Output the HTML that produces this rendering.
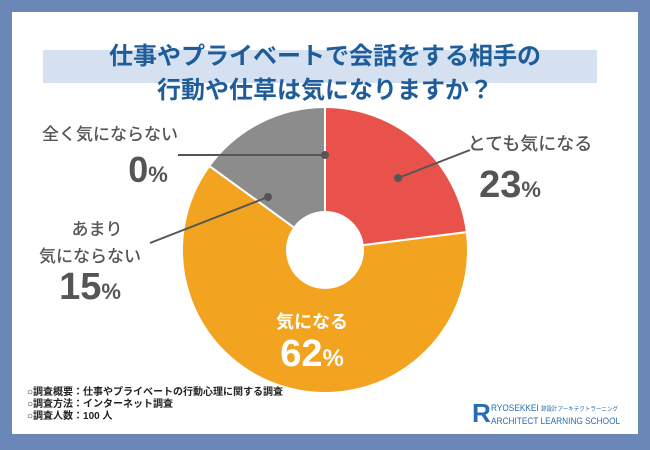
<!DOCTYPE html>
<html><head><meta charset="utf-8"><style>
body{margin:0;width:650px;height:450px;background:#6a87b7;font-family:"Liberation Sans","Noto Sans CJK JP",sans-serif;overflow:hidden}
.card{position:absolute;left:12px;top:12px;width:626px;height:422px;background:#fff}
.t{position:absolute;left:0;width:650px;text-align:center;color:#1e5c9a;font-weight:bold;font-size:24px}
</style></head><body>
<div class="card"></div>
<div style="position:absolute;left:43px;top:50px;width:554px;height:33px;background:#d5e1f0"></div>
<div class="t" style="top:36px">仕事やプライベートで会話をする相手の</div>
<div class="t" style="top:70px">行動や仕草は気になりますか？</div>
<svg width="650" height="450" style="position:absolute;left:0;top:0">
<g id="slices"></g>
<g font-family="Liberation Sans, Noto Sans CJK JP, sans-serif" fill="#555">
<line x1="178" y1="155" x2="325" y2="155" stroke="#555" stroke-width="2"/>
<circle cx="325" cy="155" r="4" fill="#555"/>
<line x1="398" y1="178" x2="470" y2="150" stroke="#555" stroke-width="2"/>
<circle cx="398" cy="178" r="4" fill="#555"/>
<line x1="150" y1="243" x2="268" y2="197" stroke="#555" stroke-width="2"/>
<circle cx="268" cy="197" r="4" fill="#555"/>
<text x="110" y="140" font-size="17" text-anchor="middle" font-weight="500">全く気にならない</text>
<text x="148" y="182" font-size="36" text-anchor="middle" font-weight="bold">0<tspan font-size="22">%</tspan></text>
<text x="530" y="150" font-size="18" text-anchor="middle" font-weight="500">とても気になる</text>
<text x="510" y="197" font-size="38" text-anchor="middle" font-weight="bold">23<tspan font-size="22">%</tspan></text>
<text x="97" y="235" font-size="17" text-anchor="middle" font-weight="500">あまり</text>
<text x="90" y="262" font-size="17" text-anchor="middle" font-weight="500">気にならない</text>
<text x="90" y="299" font-size="38" text-anchor="middle" font-weight="bold">15<tspan font-size="22">%</tspan></text>
<text x="312" y="328" font-size="18" fill="#fff" text-anchor="middle" font-weight="bold">気になる</text>
<text x="312" y="366" font-size="38" fill="#fff" text-anchor="middle" font-weight="bold">62<tspan font-size="24">%</tspan></text>
</g>
</svg>
<div style="position:absolute;left:27px;top:387px;font-size:10px;line-height:12px;color:#222;font-weight:bold">○調査概要：仕事やプライベートの行動心理に関する調査<br>○調査方法：インターネット調査<br>○調査人数：100 人</div>
<div style="position:absolute;left:472px;top:398px;font-size:26px;color:#2a6cb0;font-weight:bold">R</div>
<div style="position:absolute;left:491px;top:403px;font-size:9px;line-height:11px;color:#2a6cb0;transform:scaleX(0.92);transform-origin:left top;white-space:nowrap">RYOSEKKEI <span style="font-size:6px">諒設計アーキテクトラーニング</span><br>ARCHITECT LEARNING SCHOOL</div>
<script>
const categories=["とても気になる","気になる","あまり気にならない","全く気にならない"];
const values=[23,62,15,0];
const colors=["#e8524a","#f2a31f","#8c8c8c","#666"];
const cx=325,cy=250,R=143,r=38;
const g=document.getElementById('slices');
const tot=values.reduce((a,b)=>a+b,0);
let a0=0;
function pt(a,rad){return [cx+rad*Math.sin(a),cy-rad*Math.cos(a)];}
values.forEach((v,i)=>{
 if(v<=0)return;
 const a1=a0+v/tot*2*Math.PI;const lg=(a1-a0)>Math.PI?1:0;
 const [x0,y0]=pt(a0,R),[x1,y1]=pt(a1,R),[x2,y2]=pt(a1,r),[x3,y3]=pt(a0,r);
 const p=document.createElementNS('http://www.w3.org/2000/svg','path');
 p.setAttribute('d',`M${x0},${y0}A${R},${R} 0 ${lg} 1 ${x1},${y1}L${x2},${y2}A${r},${r} 0 ${lg} 0 ${x3},${y3}Z`);
 p.setAttribute('fill',colors[i]);p.setAttribute('stroke','#fff');p.setAttribute('stroke-width','2');
 
 
 g.appendChild(p);a0=a1;
});
</script>
</body></html>
